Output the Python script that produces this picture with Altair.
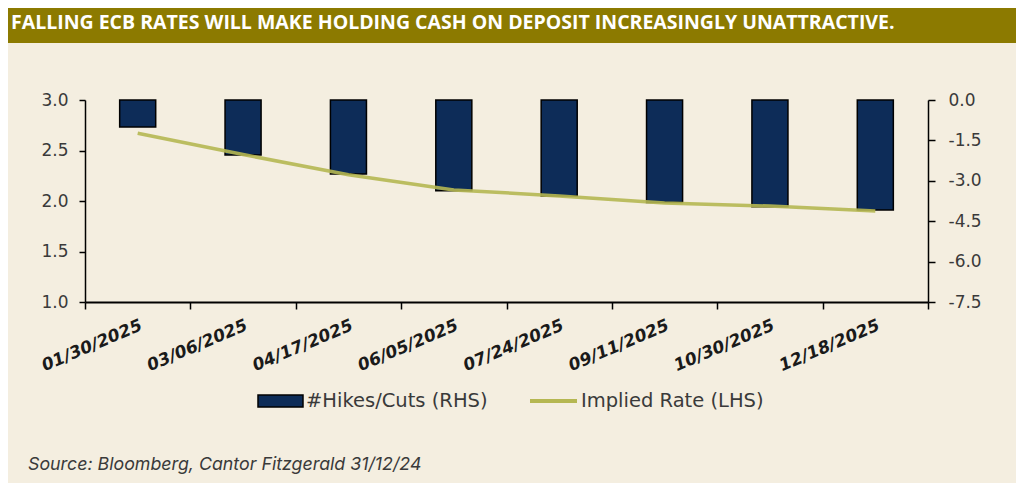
import altair as alt
import pandas as pd

# ---- data ----
dates = ["01/30/2025", "03/06/2025", "04/17/2025", "06/05/2025",
         "07/24/2025", "09/11/2025", "10/30/2025", "12/18/2025"]
hikes_cuts = [-1.00, -2.04, -2.75, -3.37, -3.56, -3.81, -3.96, -4.08]
implied_rate = [2.67, 2.46, 2.26, 2.11, 2.05, 1.98, 1.95, 1.90]
left_ticks = [1.0, 1.5, 2.0, 2.5, 3.0]
right_ticks = [0.0, -1.5, -3.0, -4.5, -6.0, -7.5]
title_text = "FALLING ECB RATES WILL MAKE HOLDING CASH ON DEPOSIT INCREASINGLY UNATTRACTIVE."
legend_labels = ["#Hikes/Cuts (RHS)", "Implied Rate (LHS)"]
source_text = "Source: Bloomberg, Cantor Fitzgerald 31/12/24"

df = pd.DataFrame({"date": dates, "cuts": hikes_cuts, "rate": implied_rate})

NAVY = "#0D2C58"
LINE = "#B5B752"
BANNER = "#8C7A00"
BG = "#F4EEE0"
TXT = "#3a3a3a"
AXFONT = "DejaVu Sans"
FONT = "Inter"

minus_fix = "replace(format(datum.value, '.1f'), '\u2212', '-')"

x_enc = alt.X(
    "date:N", sort=dates,
    scale=alt.Scale(paddingInner=0, paddingOuter=0),
    axis=alt.Axis(title=None, labelAngle=-23, labelAlign="right", labelBaseline="top",
                  labelFont=AXFONT, labelFontSize=17, labelFontWeight="bold",
                  labelFontStyle="italic", labelColor="#1a1a1a", labelPadding=8,
                  tickBand="extent", tickSize=7, tickColor="black", tickWidth=1.5,
                  domainColor="black", domainWidth=2, grid=False),
)

bars = alt.Chart(df).mark_bar(color=NAVY, stroke="black", strokeWidth=1.5,
                              width=alt.RelativeBandSize(0.342)).encode(
    x=x_enc,
    y=alt.Y("cuts:Q", scale=alt.Scale(domain=[-7.5, 0], nice=False, zero=True),
            axis=alt.Axis(orient="right", title=None, values=right_ticks, labelExpr=minus_fix,
                          labelFont=AXFONT, labelFontSize=17, labelColor=TXT, labelPadding=13,
                          tickSize=7, tickColor="black", tickWidth=1.5,
                          domainColor="black", domainWidth=1.5, grid=False)),
)

line = alt.Chart(df).mark_line(color=LINE, strokeWidth=3.5, opacity=0.9).encode(
    x=x_enc,
    y=alt.Y("rate:Q", scale=alt.Scale(domain=[1.0, 3.0], nice=False, zero=False),
            axis=alt.Axis(orient="left", title=None, values=left_ticks, format=".1f",
                          labelFont=AXFONT, labelFontSize=17, labelColor=TXT, labelPadding=11,
                          tickSize=6, tickColor="black", tickWidth=1.5,
                          domainColor="black", domainWidth=1.5, grid=False)),
)

one = alt.Data(values=[{}])

banner = alt.Chart(one).mark_rect(color=BANNER).encode(
    x=alt.value(-77), x2=alt.value(931), y=alt.value(-92), y2=alt.value(-57))

title = alt.Chart(one).mark_text(align="left", baseline="alphabetic", font="Open Sans",
                                 fontSize=19.5, fontWeight="bold", color="white").encode(
    x=alt.value(-74), y=alt.value(-71), text=alt.value(title_text))

leg_rect = alt.Chart(one).mark_rect(color=NAVY, stroke="black", strokeWidth=1.5).encode(
    x=alt.value(173), x2=alt.value(218), y=alt.value(295), y2=alt.value(307))
leg_t1 = alt.Chart(one).mark_text(align="left", baseline="middle", font=AXFONT,
                                  fontSize=19.5, color=TXT).encode(
    x=alt.value(221), y=alt.value(301), text=alt.value(legend_labels[0]))
leg_line = alt.Chart(one).mark_rule(color=LINE, strokeWidth=4).encode(
    x=alt.value(445), x2=alt.value(492), y=alt.value(301))
leg_t2 = alt.Chart(one).mark_text(align="left", baseline="middle", font=AXFONT,
                                  fontSize=19.5, color=TXT).encode(
    x=alt.value(496), y=alt.value(301), text=alt.value(legend_labels[1]))

source = alt.Chart(one).mark_text(align="left", baseline="alphabetic", font=FONT,
                                  fontSize=17.8, fontStyle="italic", color=TXT).encode(
    x=alt.value(-57), y=alt.value(370), text=alt.value(source_text))

chart = alt.layer(banner, title, bars, line, leg_rect, leg_t1, leg_line, leg_t2, source).resolve_scale(
    y="independent"
).properties(
    width=843, height=202,
    padding={"left": 77, "top": 92, "right": 88, "bottom": 181},
    autosize=alt.AutoSizeParams(type="none"),
    background=BG,
).configure_view(stroke=None)

chart.save("out.html", embed_options={"renderer": "svg", "actions": False})
